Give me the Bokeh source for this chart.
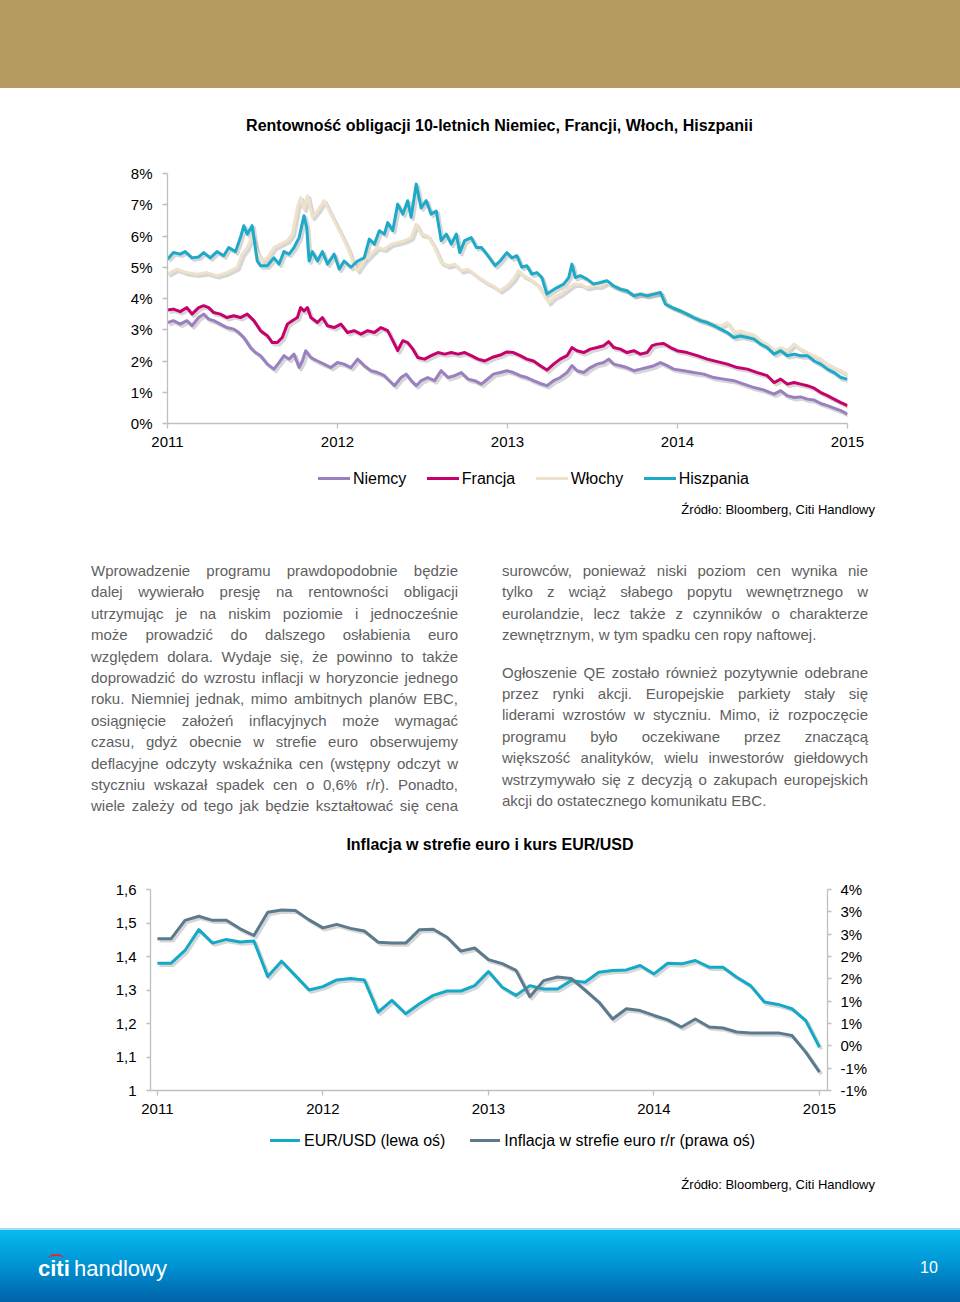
from bokeh.plotting import figure
from bokeh.models import (Range1d, FixedTicker, CustomJSTickFormatter, LinearAxis, Div)
from bokeh.layouts import column, row
from bokeh.embed import file_html
from bokeh.resources import INLINE

FONT = "Liberation Sans"

# ---------------- Chart 1 data: 10y bond yields (%), decimal year ----------------
DE = [(2011.000,3.23),(2011.035,3.29),(2011.075,3.18),(2011.114,3.29),(2011.144,3.13),(2011.183,3.39),
      (2011.213,3.50),(2011.242,3.34),(2011.272,3.29),(2011.311,3.18),(2011.350,3.07),(2011.390,3.02),
      (2011.419,2.91),(2011.449,2.75),(2011.488,2.43),(2011.518,2.27),(2011.547,2.17),(2011.587,1.90),
      (2011.626,1.74),(2011.656,1.95),(2011.685,2.17),(2011.715,2.06),(2011.744,2.22),(2011.774,1.79),
      (2011.793,2.00),(2011.813,2.33),(2011.843,2.11),(2011.882,2.00),(2011.921,1.90),(2011.961,1.79),
      (2012.000,1.95),(2012.039,1.90),(2012.079,1.79),(2012.118,2.06),(2012.157,1.85),(2012.197,1.69),
      (2012.236,1.63),(2012.276,1.53),(2012.305,1.37),(2012.335,1.21),(2012.374,1.47),(2012.404,1.58),
      (2012.433,1.37),(2012.463,1.21),(2012.492,1.37),(2012.531,1.47),(2012.571,1.37),(2012.610,1.69),
      (2012.650,1.47),(2012.689,1.53),(2012.728,1.63),(2012.768,1.42),(2012.807,1.37),(2012.846,1.26),
      (2012.878,1.40),(2012.917,1.58),(2012.957,1.63),(2012.996,1.69),(2013.035,1.63),(2013.075,1.53),
      (2013.114,1.47),(2013.153,1.37),(2013.193,1.28),(2013.232,1.21),(2013.271,1.37),(2013.310,1.47),
      (2013.350,1.63),(2013.379,1.85),(2013.409,1.69),(2013.448,1.63),(2013.487,1.79),(2013.527,1.90),
      (2013.566,1.95),(2013.595,2.06),(2013.625,1.90),(2013.664,1.85),(2013.703,1.79),(2013.743,1.69),
      (2013.782,1.74),(2013.821,1.79),(2013.861,1.85),(2013.900,1.95),(2013.939,1.85),(2013.978,1.74),
      (2014.037,1.69),(2014.096,1.63),(2014.155,1.58),(2014.214,1.47),(2014.273,1.42),(2014.332,1.37),
      (2014.391,1.26),(2014.450,1.15),(2014.509,1.07),(2014.568,0.94),(2014.607,1.05),(2014.646,0.89),
      (2014.686,0.83),(2014.725,0.85),(2014.764,0.78),(2014.804,0.75),(2014.843,0.64),(2014.882,0.57),
      (2014.921,0.49),(2014.961,0.41),(2015.000,0.30)]

FR = [(2011.000,3.63),(2011.035,3.66),(2011.075,3.58),(2011.114,3.71),(2011.144,3.50),(2011.183,3.71),
      (2011.213,3.77),(2011.242,3.71),(2011.272,3.55),(2011.311,3.50),(2011.350,3.39),(2011.390,3.45),
      (2011.429,3.39),(2011.469,3.50),(2011.508,3.29),(2011.547,2.97),(2011.587,2.81),(2011.616,2.59),
      (2011.646,2.59),(2011.675,2.75),(2011.705,3.18),(2011.734,3.29),(2011.764,3.39),(2011.783,3.71),
      (2011.803,3.60),(2011.823,3.71),(2011.843,3.39),(2011.882,3.23),(2011.911,3.39),(2011.941,3.13),
      (2011.980,3.07),(2012.020,3.18),(2012.059,2.91),(2012.098,2.97),(2012.138,2.86),(2012.177,2.97),
      (2012.217,2.91),(2012.256,3.07),(2012.295,2.97),(2012.325,2.65),(2012.354,2.33),(2012.384,2.65),
      (2012.413,2.59),(2012.443,2.38),(2012.472,2.11),(2012.512,2.06),(2012.551,2.17),(2012.591,2.27),
      (2012.630,2.22),(2012.669,2.27),(2012.709,2.22),(2012.748,2.27),(2012.787,2.17),(2012.827,2.06),
      (2012.866,2.00),(2012.917,2.13),(2012.957,2.19),(2012.996,2.29),(2013.035,2.27),(2013.075,2.17),
      (2013.114,2.06),(2013.153,2.00),(2013.193,1.85),(2013.232,1.71),(2013.271,1.90),(2013.310,2.06),
      (2013.350,2.17),(2013.379,2.43),(2013.409,2.33),(2013.448,2.27),(2013.487,2.38),(2013.527,2.43),
      (2013.566,2.49),(2013.595,2.62),(2013.625,2.43),(2013.664,2.38),(2013.703,2.27),(2013.743,2.33),
      (2013.782,2.22),(2013.821,2.27),(2013.851,2.49),(2013.880,2.54),(2013.919,2.56),(2013.959,2.43),
      (2013.998,2.33),(2014.057,2.27),(2014.116,2.17),(2014.175,2.06),(2014.234,1.98),(2014.293,1.90),
      (2014.352,1.79),(2014.411,1.74),(2014.470,1.63),(2014.528,1.53),(2014.568,1.31),(2014.607,1.42),
      (2014.646,1.26),(2014.686,1.31),(2014.725,1.26),(2014.764,1.21),(2014.804,1.13),(2014.843,0.99),
      (2014.882,0.89),(2014.921,0.78),(2014.961,0.67),(2015.000,0.57)]

IT = [(2011.000,4.78),(2011.055,4.94),(2011.114,4.83),(2011.173,4.78),(2011.232,4.83),(2011.291,4.73),
      (2011.350,4.83),(2011.409,4.99),(2011.439,5.42),(2011.469,5.63),(2011.498,6.00),(2011.528,5.47),
      (2011.557,5.20),(2011.587,5.30),(2011.626,5.63),(2011.665,5.74),(2011.705,5.85),(2011.734,6.06),
      (2011.764,6.91),(2011.783,7.23),(2011.803,6.86),(2011.823,7.29),(2011.852,6.60),(2011.882,6.80),
      (2011.921,7.13),(2011.941,6.91),(2011.980,6.49),(2012.010,6.17),(2012.039,5.85),(2012.069,5.50),
      (2012.098,5.05),(2012.118,4.89),(2012.157,5.20),(2012.197,5.42),(2012.236,5.63),(2012.276,5.58),
      (2012.315,5.74),(2012.354,5.79),(2012.394,5.85),(2012.433,5.95),(2012.463,6.38),(2012.492,6.06),
      (2012.531,6.00),(2012.571,5.63),(2012.610,5.15),(2012.650,5.05),(2012.689,5.10),(2012.728,4.89),
      (2012.768,4.94),(2012.807,4.78),(2012.846,4.62),(2012.878,4.51),(2012.917,4.40),(2012.957,4.25),
      (2012.996,4.40),(2013.035,4.62),(2013.065,4.89),(2013.094,4.73),(2013.134,4.62),(2013.173,4.46),
      (2013.212,4.14),(2013.242,3.87),(2013.271,4.03),(2013.310,4.14),(2013.350,4.30),(2013.389,4.46),
      (2013.428,4.46),(2013.468,4.35),(2013.507,4.40),(2013.546,4.40),(2013.585,4.51),(2013.625,4.40),
      (2013.664,4.33),(2013.703,4.25),(2013.743,4.12),(2013.782,4.16),(2013.821,4.12),(2013.861,4.16),
      (2013.900,4.19),(2013.929,3.87),(2013.969,3.73),(2014.018,3.62),(2014.057,3.52),(2014.096,3.42),
      (2014.136,3.34),(2014.175,3.26),(2014.214,3.18),(2014.253,3.12),(2014.293,3.23),(2014.332,2.91),
      (2014.371,2.96),(2014.411,2.88),(2014.450,2.84),(2014.489,2.65),(2014.528,2.54),(2014.568,2.33),
      (2014.607,2.43),(2014.646,2.33),(2014.686,2.54),(2014.725,2.38),(2014.764,2.27),(2014.804,2.17),
      (2014.843,2.06),(2014.882,1.90),(2014.921,1.79),(2014.961,1.69),(2015.000,1.58)]

ES = [(2011.000,5.26),(2011.035,5.47),(2011.075,5.42),(2011.104,5.50),(2011.144,5.30),(2011.183,5.33),
      (2011.213,5.47),(2011.252,5.30),(2011.291,5.50),(2011.331,5.37),(2011.360,5.63),(2011.400,5.50),
      (2011.429,5.95),(2011.449,6.33),(2011.469,6.06),(2011.498,6.33),(2011.508,5.95),(2011.528,5.20),
      (2011.547,5.05),(2011.587,5.05),(2011.626,5.30),(2011.656,5.10),(2011.685,5.50),(2011.715,5.42),
      (2011.744,5.63),(2011.774,5.95),(2011.803,6.65),(2011.819,6.27),(2011.833,5.20),(2011.852,5.50),
      (2011.882,5.20),(2011.911,5.50),(2011.941,5.10),(2011.980,5.42),(2012.010,4.94),(2012.039,5.20),
      (2012.079,5.00),(2012.118,5.20),(2012.157,5.30),(2012.187,5.90),(2012.217,5.74),(2012.246,6.17),
      (2012.276,6.06),(2012.295,6.43),(2012.325,6.17),(2012.354,7.02),(2012.384,6.70),(2012.413,7.13),
      (2012.433,6.60),(2012.463,7.66),(2012.492,6.90),(2012.522,7.13),(2012.551,6.70),(2012.581,6.80),
      (2012.610,5.85),(2012.640,6.06),(2012.669,5.74),(2012.699,6.06),(2012.719,5.47),(2012.748,5.85),
      (2012.787,5.95),(2012.817,5.63),(2012.846,5.63),(2012.878,5.42),(2012.927,5.05),(2012.957,5.20),
      (2012.996,5.47),(2013.026,5.30),(2013.055,5.37),(2013.084,5.00),(2013.114,5.05),(2013.143,4.78),
      (2013.173,4.83),(2013.202,4.67),(2013.232,4.14),(2013.261,4.25),(2013.291,4.35),(2013.330,4.46),
      (2013.360,4.67),(2013.379,5.10),(2013.399,4.67),(2013.428,4.73),(2013.468,4.62),(2013.507,4.46),
      (2013.546,4.51),(2013.585,4.57),(2013.625,4.40),(2013.664,4.30),(2013.703,4.25),(2013.743,4.09),
      (2013.782,4.14),(2013.821,4.09),(2013.861,4.14),(2013.900,4.19),(2013.929,3.82),(2013.969,3.71),
      (2014.018,3.60),(2014.057,3.50),(2014.096,3.39),(2014.136,3.29),(2014.175,3.23),(2014.214,3.13),
      (2014.253,3.02),(2014.293,2.91),(2014.332,2.75),(2014.371,2.80),(2014.411,2.75),(2014.450,2.70),
      (2014.489,2.54),(2014.528,2.43),(2014.568,2.22),(2014.607,2.33),(2014.646,2.17),(2014.686,2.22),
      (2014.725,2.17),(2014.764,2.17),(2014.804,2.00),(2014.843,1.90),(2014.882,1.74),(2014.921,1.63),
      (2014.961,1.47),(2015.000,1.42)]

SERIES1 = ["Niemcy", "Francja", "Włochy", "Hiszpania"]
COLORS1 = ["#9B80BF", "#C6006C", "#EEE2CA", "#1DAAC8"]
YEARS = [2011, 2012, 2013, 2014, 2015]
PCT_TICKS = [0, 1, 2, 3, 4, 5, 6, 7, 8]

# ---------------- Chart 2 data: monthly Jan 2011 - Jan 2015 ----------------
MONTHS = [f"{y}-{m:02d}" for y in range(2011, 2015) for m in range(1, 13)] + ["2015-01"]
EURUSD = [1.380, 1.380, 1.418, 1.480, 1.440, 1.451, 1.443, 1.446, 1.340, 1.386, 1.343, 1.300,
          1.310, 1.330, 1.334, 1.330, 1.234, 1.269, 1.229, 1.259, 1.284, 1.297, 1.297, 1.313,
          1.355, 1.308, 1.284, 1.313, 1.303, 1.303, 1.328, 1.323, 1.353, 1.358, 1.360, 1.373,
          1.348, 1.380, 1.378, 1.388, 1.368, 1.368, 1.338, 1.313, 1.264, 1.257, 1.244, 1.209, 1.129]
INFL = [2.40, 2.40, 2.81, 2.90, 2.81, 2.81, 2.62, 2.47, 2.99, 3.04, 3.03, 2.82,
        2.64, 2.72, 2.63, 2.57, 2.32, 2.30, 2.30, 2.60, 2.61, 2.43, 2.12, 2.19,
        1.93, 1.84, 1.69, 1.10, 1.46, 1.54, 1.51, 1.25, 0.98, 0.60, 0.83, 0.79,
        0.68, 0.58, 0.42, 0.60, 0.42, 0.40, 0.31, 0.29, 0.29, 0.29, 0.23, -0.14, -0.59]
SERIES2 = ["EUR/USD (lewa oś)", "Inflacja w strefie euro r/r (prawa oś)"]
COLORS2 = ["#14A9C6", "#5B7A8E"]
FX_TICKS = [1.0, 1.1, 1.2, 1.3, 1.4, 1.5, 1.6]
INFL_TICKS = [-1.0, -0.5, 0.0, 0.5, 1.0, 1.5, 2.0, 2.5, 3.0, 3.5]

TITLE1 = "Rentowność obligacji 10-letnich Niemiec, Francji, Włoch, Hiszpanii"
TITLE2 = "Inflacja w strefie euro i kurs EUR/USD"
SOURCE = "Źródło: Bloomberg, Citi Handlowy"

LEFT_LINES = [
    "Wprowadzenie programu prawdopodobnie będzie",
    "dalej wywierało presję na rentowności obligacji",
    "utrzymując je na niskim poziomie i jednocześnie",
    "może prowadzić do dalszego osłabienia euro",
    "względem dolara. Wydaje się, że powinno to także",
    "doprowadzić do wzrostu inflacji w horyzoncie jednego",
    "roku. Niemniej jednak, mimo ambitnych planów EBC,",
    "osiągnięcie założeń inflacyjnych może wymagać",
    "czasu, gdyż obecnie w strefie euro obserwujemy",
    "deflacyjne odczyty wskaźnika cen (wstępny odczyt w",
    "styczniu wskazał spadek cen o 0,6% r/r). Ponadto,",
    "wiele zależy od tego jak będzie kształtować się cena",
]
RIGHT_P1 = [
    "surowców, ponieważ niski poziom cen wynika nie",
    "tylko z wciąż słabego popytu wewnętrznego w",
    "eurolandzie, lecz także z czynników o charakterze",
    "zewnętrznym, w tym spadku cen ropy naftowej.",
]
RIGHT_P2 = [
    "Ogłoszenie QE zostało również pozytywnie odebrane",
    "przez rynki akcji. Europejskie parkiety stały się",
    "liderami wzrostów w styczniu. Mimo, iż rozpoczęcie",
    "programu było oczekiwane przez znaczącą",
    "większość analityków, wielu inwestorów giełdowych",
    "wstrzymywało się z decyzją o zakupach europejskich",
    "akcji do ostatecznego komunikatu EBC.",
]

AXIS_GREY = "#BFBFBF"
FF = "'Liberation Sans', Arial, sans-serif"
W = 960


def style_axis(ax, standoff, tick_out=5):
    ax.axis_line_color = AXIS_GREY
    ax.axis_line_width = 1.3
    ax.major_tick_line_color = AXIS_GREY
    ax.major_tick_line_width = 1.3
    ax.major_tick_out = tick_out
    ax.major_tick_in = 0
    ax.minor_tick_line_color = None
    ax.major_label_text_font = FONT
    ax.major_label_text_font_size = "15px"
    ax.major_label_text_color = "#000000"
    ax.major_label_standoff = standoff


def mkdiv(html, w, h):
    return Div(text=html, width=w, height=h, margin=0)


def legend_div(names, colors, first_left, sample_w, gap, spacing, pad_top, h):
    parts = []
    for i, (n, c) in enumerate(zip(names, colors)):
        ml = first_left if i == 0 else spacing
        parts.append(
            f'<span style="display:inline-block;margin-left:{ml}px;width:{sample_w}px;height:3px;'
            f'background:{c};vertical-align:middle;"></span>'
            f'<span style="display:inline-block;margin-left:{gap}px;vertical-align:middle;">{n}</span>')
    return mkdiv(f'<div style="width:{W}px;padding-top:{pad_top}px;font:16px/20px {FF};color:#000;'
                 f'white-space:nowrap;">' + "".join(parts) + '</div>', W, h)


# ---------------- Figure 1 ----------------
p1 = figure(width=W, height=315, x_range=Range1d(2011, 2015), y_range=Range1d(0, 8),
            output_backend="svg", toolbar_location=None,
            min_border_left=167, min_border_right=113, min_border_top=33, min_border_bottom=32)
p1.outline_line_color = None
p1.xgrid.visible = False
p1.ygrid.visible = False
# shadow ranges (about 2 px right / 2 px down)
p1.extra_x_ranges = {"shx": Range1d(2011 - 0.012, 2015 - 0.012)}
p1.extra_y_ranges = {"shy": Range1d(0 + 0.07, 8 + 0.07)}

p1.xaxis.ticker = FixedTicker(ticks=YEARS)
p1.xaxis.formatter = CustomJSTickFormatter(code="return tick.toFixed(0);")
p1.yaxis.ticker = FixedTicker(ticks=PCT_TICKS)
p1.yaxis.formatter = CustomJSTickFormatter(code="return tick.toFixed(0) + '%';")
style_axis(p1.xaxis[0], 8, 5)
style_axis(p1.yaxis[0], 10, 5)

for data in [DE, FR, IT, ES]:
    p1.line([d[0] for d in data], [d[1] for d in data], x_range_name="shx", y_range_name="shy",
            line_color="#8a8a8a", line_alpha=0.35, line_width=3.5, line_join="round")
for name, col, data in zip(SERIES1, COLORS1, [DE, FR, IT, ES]):
    p1.line([d[0] for d in data], [d[1] for d in data], line_color=col, line_width=3,
            line_join="round", name=name)

# ---------------- Figure 2 ----------------
xm = [int(s[:4]) + (int(s[5:]) - 0.5) / 12 for s in MONTHS]
p2 = figure(width=W, height=260, x_range=Range1d(2011, 2015.09), y_range=Range1d(1.0, 1.6),
            output_backend="svg", toolbar_location=None,
            min_border_left=150, min_border_right=133, min_border_top=27, min_border_bottom=32)
p2.outline_line_color = None
p2.xgrid.visible = False
p2.ygrid.visible = False
p2.extra_y_ranges = {"infl": Range1d(-1.0, 3.5),
                     "shy": Range1d(1.0 + 0.006, 1.6 + 0.006),
                     "shi": Range1d(-1.0 + 0.045, 3.5 + 0.045)}
p2.extra_x_ranges = {"shx": Range1d(2011 - 0.012, 2015.09 - 0.012)}

p2.xaxis.ticker = FixedTicker(ticks=[y + 0.5 / 12 for y in YEARS])
p2.xaxis.formatter = CustomJSTickFormatter(code="return Math.floor(tick).toFixed(0);")
p2.yaxis.ticker = FixedTicker(ticks=FX_TICKS)
p2.yaxis.formatter = CustomJSTickFormatter(
    code="return Math.abs(tick - 1) < 1e-9 ? '1' : tick.toFixed(1).replace('.', ',');")
style_axis(p2.xaxis[0], 8, 5)
style_axis(p2.yaxis[0], 10, 4)
ax_r = LinearAxis(y_range_name="infl", ticker=FixedTicker(ticks=INFL_TICKS),
                  formatter=CustomJSTickFormatter(
                      code="var r = Math.sign(tick) * Math.round(Math.abs(tick) + 1e-9);"
                           "if (r === 0) { r = 0; } return r + '%';"))
style_axis(ax_r, 9, 4)
p2.add_layout(ax_r, "right")

p2.line(xm, EURUSD, x_range_name="shx", y_range_name="shy", line_color="#8a8a8a",
        line_alpha=0.35, line_width=3.5, line_join="round")
p2.line(xm, INFL, x_range_name="shx", y_range_name="shi", line_color="#8a8a8a",
        line_alpha=0.35, line_width=3.5, line_join="round")
p2.line(xm, EURUSD, line_color=COLORS2[0], line_width=3, line_join="round", name=SERIES2[0])
p2.line(xm, INFL, y_range_name="infl", line_color=COLORS2[1], line_width=3,
        line_join="round", name=SERIES2[1])

# ---------------- HTML parts ----------------
header = mkdiv(f'<div style="width:{W}px;height:88px;background:#B49A5E;"></div>', W, 88)

title1 = mkdiv(
    f'<div style="box-sizing:border-box;width:{W}px;padding:28px 0 0 39px;text-align:center;'
    f'font:bold 16px/20px {FF};color:#000;white-space:nowrap;">{TITLE1}</div>', W, 52)

legend1 = legend_div(SERIES1, COLORS1, 318, 32, 3, 20.5, 13, 42)


def source_div(h, pad_top):
    return mkdiv(
        f'<div style="box-sizing:border-box;width:{W}px;padding:{pad_top}px 85px 0 0;text-align:right;'
        f'font:13px/16px {FF};color:#000;white-space:nowrap;">{SOURCE}</div>', W, h)


source1 = source_div(28, 5)


def lines_html(lines, justify_last):
    out = []
    for i, ln in enumerate(lines):
        last = (i == len(lines) - 1) and not justify_last
        al = "left" if last else "justify"
        out.append(f'<div style="text-align:justify;text-align-last:{al};">{ln}</div>')
    return "".join(out)


left_html = (f'<div style="box-sizing:border-box;width:480px;padding:35px 0 0 91px;'
             f'font:15px/21.4px {FF};color:#5F5F5F;"><div style="width:367px;">'
             + lines_html(LEFT_LINES, True) + '</div></div>')
right_html = (f'<div style="box-sizing:border-box;width:480px;padding:35px 0 0 22px;'
              f'font:15px/21.4px {FF};color:#5F5F5F;"><div style="width:366px;">'
              + lines_html(RIGHT_P1, False)
              + '<div style="height:15.9px;"></div>'
              + lines_html(RIGHT_P2, False) + '</div></div>')
text_row = row(mkdiv(left_html, 480, 305), mkdiv(right_html, 480, 305), spacing=0)

title2 = mkdiv(
    f'<div style="box-sizing:border-box;width:{W}px;padding:5px 0 0 20px;text-align:center;'
    f'font:bold 16px/20px {FF};color:#000;white-space:nowrap;">{TITLE2}</div>', W, 32)

legend2 = legend_div(SERIES2, COLORS2, 270, 30, 4, 25, 8, 38)
source2 = source_div(40, 17)

footer = mkdiv(
    '<div style="position:fixed;left:0;top:1228px;width:960px;height:74px;'
    'background:linear-gradient(#06BBEC 0%, #0096D6 45%, #0062A8 100%);'
    'border-top:2px solid #A6DDF3;box-sizing:border-box;">'
    f'<span style="position:absolute;left:38px;top:27px;font:bold 22px/24px {FF};color:#fff;">citi</span>'
    '<span style="position:absolute;left:48px;top:24px;width:16px;height:8px;'
    'border-top:2.5px solid #E3262F;border-radius:50% 50% 0 0;box-sizing:border-box;"></span>'
    f'<span style="position:absolute;left:74px;top:27px;font:22px/24px {FF};color:#fff;">handlowy</span>'
    f'<span style="position:absolute;left:920px;top:29px;font:16px/18px {FF};color:#fff;">10</span>'
    '</div>', W, 100)

layout = column(header, title1, row(p1), legend1, source1, text_row, title2, row(p2),
                legend2, source2, footer, spacing=0)

with open("out.html", "w", encoding="utf-8") as f:
    f.write(file_html(layout, INLINE, title="Rentowność obligacji"))
